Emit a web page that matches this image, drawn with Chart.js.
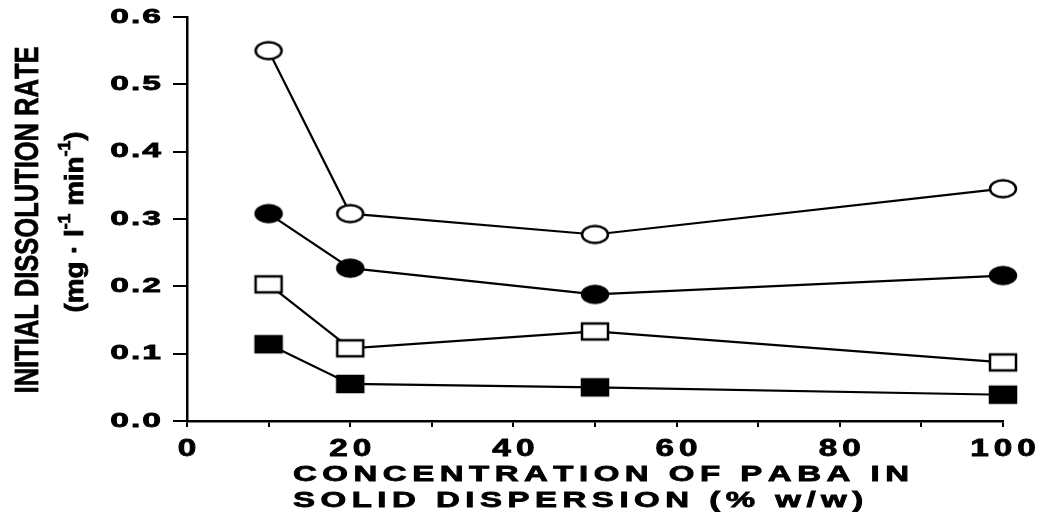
<!DOCTYPE html>
<html>
<head>
<meta charset="utf-8">
<script src="https://cdn.jsdelivr.net/npm/chart.js@4"></script>
<style>
  html, body { margin: 0; padding: 0; background: #fff; }
  canvas { display: block; }
</style>
</head>
<body>
<canvas id="chart" width="1045" height="512"></canvas>
<script>
// concentration of PABA (% w/w)
const concentration = [10, 20, 50, 100];

// initial dissolution rate, one array per marker type
const openCircle = [0.550, 0.308, 0.277, 0.345];
const filledCircle = [0.308, 0.227, 0.188, 0.216];
const openSquare = [0.203, 0.108, 0.133, 0.087];
const filledSquare = [0.114, 0.055, 0.050, 0.039];

const xTickLabels = [0, 20, 40, 60, 80, 100];
const yTickLabels = [0.0, 0.1, 0.2, 0.3, 0.4, 0.5, 0.6];

const xTitle = ["CONCENTRATION OF PABA IN", "SOLID DISPERSION (% w/w)"];
const yTitle = "INITIAL DISSOLUTION RATE";

const FONT = "'Liberation Sans', Arial, sans-serif";

// markers are slightly wider than tall in the scan, so draw them on small canvases
function makeMarker(shape, filled) {
  const c = document.createElement("canvas");
  c.width = 32;
  c.height = 24;
  const g = c.getContext("2d");
  g.lineWidth = 2.5;
  g.strokeStyle = "#000";
  g.fillStyle = filled ? "#000" : "#fff";
  g.beginPath();
  if (shape === "circle") {
    g.ellipse(16, 12, 13, 8.5, 0, 0, Math.PI * 2);
  } else {
    g.rect(3, 4, 26, 16);
  }
  g.fill();
  g.stroke();
  return c;
}

function toPoints(values) {
  return concentration.map((x, i) => ({ x: x, y: values[i] }));
}

function series(label, values, marker) {
  return {
    label: label,
    data: toPoints(values),
    borderColor: "#000",
    borderWidth: 2.2,
    pointStyle: marker,
    pointRadius: 10,
    tension: 0,
    clip: false
  };
}

// draws text char by char with horizontal stretch and extra spacing
function drawSpaced(ctx, text, x, y, sx, spacing, align) {
  const chars = [...text];
  const widths = chars.map(ch => ctx.measureText(ch).width * sx);
  const total = widths.reduce((a, b) => a + b, 0) + spacing * (chars.length - 1);
  let cx = x;
  if (align === "center") cx = x - total / 2;
  if (align === "right") cx = x - total;
  chars.forEach((ch, i) => {
    ctx.save();
    ctx.translate(cx, y);
    ctx.scale(sx, 1);
    ctx.fillText(ch, 0, 0);
    ctx.strokeText(ch, 0, 0);
    ctx.restore();
    cx += widths[i] + spacing;
  });
}

const textPlugin = {
  id: "scanText",
  afterDraw(chart) {
    const ctx = chart.ctx;
    const xs = chart.scales.x;
    const ys = chart.scales.y;
    ctx.save();
    ctx.fillStyle = "#000";
    ctx.strokeStyle = "#000";
    ctx.lineWidth = 0.8;
    ctx.textAlign = "left";
    ctx.textBaseline = "middle";

    // y tick labels
    ctx.font = "bold 21px " + FONT;
    yTickLabels.forEach(v => {
      drawSpaced(ctx, v.toFixed(1), xs.left - 26, ys.getPixelForValue(v), 1.6, 2, "right");
    });

    // x tick labels
    ctx.font = "bold 23px " + FONT;
    xTickLabels.forEach(v => {
      drawSpaced(ctx, String(v), xs.getPixelForValue(v), ys.bottom + 29, 1.45, 5, "center");
    });

    // x title, two left aligned lines
    ctx.font = "bold 22px " + FONT;
    xTitle.forEach((line, i) => {
      drawSpaced(ctx, line, xs.left + 106, ys.bottom + 54 + i * 26, 1.5, 5.5, "left");
    });

    // y title, rotated
    ctx.save();
    ctx.translate(29, 220);
    ctx.rotate(-Math.PI / 2);
    ctx.font = "bold 33px " + FONT;
    const w1 = ctx.measureText(yTitle).width;
    drawSpaced(ctx, yTitle, 0, 0, 345 / w1, 0, "center");
    ctx.restore();

    // unit line with superscripts
    ctx.save();
    ctx.translate(76, 222);
    ctx.rotate(-Math.PI / 2);
    const parts = [
      { t: "(mg \u00b7 l", sup: false },
      { t: "-1", sup: true },
      { t: " min", sup: false },
      { t: "-1", sup: true },
      { t: ")", sup: false }
    ];
    const widthOf = p => {
      ctx.font = (p.sup ? "bold 16px " : "bold 25px ") + FONT;
      return ctx.measureText(p.t).width;
    };
    const natural = parts.reduce((a, p) => a + widthOf(p), 0);
    const sx = 181 / natural;
    let px = -181 / 2;
    parts.forEach(p => {
      const w = widthOf(p) * sx;
      ctx.save();
      ctx.translate(px, p.sup ? -10 : 0);
      ctx.scale(sx, 1);
      ctx.fillText(p.t, 0, 0);
      ctx.strokeText(p.t, 0, 0);
      ctx.restore();
      px += w;
    });
    ctx.restore();

    ctx.restore();
  }
};

const ctx = document.getElementById("chart").getContext("2d");

new Chart(ctx, {
  type: "line",
  data: {
    datasets: [
      series("open circle", openCircle, makeMarker("circle", false)),
      series("filled circle", filledCircle, makeMarker("circle", true)),
      series("open square", openSquare, makeMarker("square", false)),
      series("filled square", filledSquare, makeMarker("square", true))
    ]
  },
  options: {
    responsive: false,
    devicePixelRatio: 1,
    animation: false,
    layout: { padding: { top: 17, right: 42, left: 0, bottom: 0 } },
    plugins: {
      legend: { display: false },
      tooltip: { enabled: false }
    },
    scales: {
      x: {
        type: "linear",
        min: 0,
        max: 100,
        ticks: { stepSize: 10, display: false },
        grid: { drawOnChartArea: false, drawTicks: true, tickLength: 6, color: "#000", lineWidth: 2 },
        border: { color: "#000", width: 2.5 },
        afterFit: scale => { scale.height = 91; }
      },
      y: {
        min: 0,
        max: 0.6,
        ticks: { stepSize: 0.1, display: false },
        grid: { drawOnChartArea: false, drawTicks: true, tickLength: 14, color: "#000", lineWidth: 2 },
        border: { color: "#000", width: 2.5 },
        afterFit: scale => { scale.height; scale.width = 187; }
      }
    }
  },
  plugins: [textPlugin]
});
</script>
</body>
</html>
